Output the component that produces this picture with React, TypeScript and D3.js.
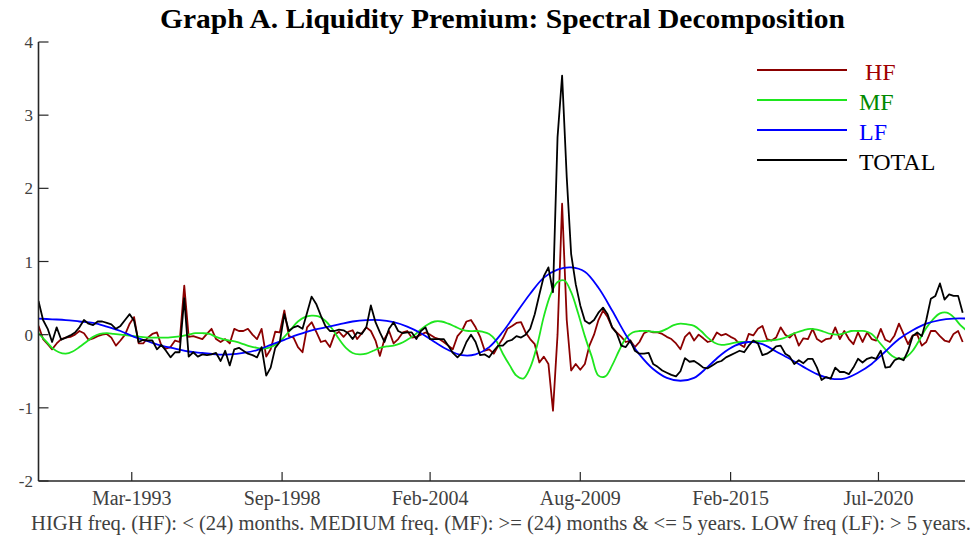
import React from "react";
import * as d3 from "d3";

// ---------- DATA ----------
// Monthly observations start Oct-1989; each series has its own sampling step (months).
const START = new Date(Date.UTC(1989, 9, 1));
const END = new Date(Date.UTC(2023, 8, 1));

const HF_STEP = 2;
const HF = [
  0.12, -0.06, -0.13, -0.2, -0.12, -0.06, -0.04, -0.03, 0.0, 0.05,
  0.02, -0.07, -0.05, -0.02, 0.0, 0.01, -0.04, -0.15, -0.08, 0.0,
  0.15, 0.24, -0.12, -0.12, -0.04, 0.01, 0.03, -0.15, -0.19, -0.17,
  -0.08, -0.1, 0.67, -0.03, -0.02, -0.04, -0.06, 0.01, 0.08, -0.06,
  -0.1, -0.06, -0.12, 0.08, 0.05, 0.05, 0.08, 0.0, -0.06, 0.08,
  -0.3, -0.2, 0.04, 0.03, 0.33, -0.02, -0.04, -0.17, -0.24, 0.1,
  0.17, 0.04, -0.1, -0.08, -0.17, 0.0, 0.04, -0.03, 0.04, 0.06,
  -0.06, 0.02, 0.1, 0.05, -0.08, -0.29, -0.06, 0.05, -0.12, -0.06,
  0.03, 0.05, -0.04, -0.03, 0.0, 0.03, 0.0, -0.04, -0.06, -0.1,
  -0.15, -0.2, -0.02, 0.05, 0.18, 0.2, 0.1, -0.03, -0.22, -0.2,
  -0.26, -0.15, -0.05, 0.08, 0.12, 0.16, 0.17, 0.03, -0.06, -0.13,
  -0.38, -0.3, -0.4, -1.04, 0.0, 1.79, 0.2, -0.49, -0.4, -0.48,
  -0.4, -0.15, 0.0, 0.2, 0.33, 0.24, 0.1, 0.03, -0.03, -0.1,
  -0.08, -0.17, -0.1, 0.02, 0.05, 0.03, 0.03, 0.01, -0.03, -0.06,
  -0.12, -0.2, -0.03, 0.03, -0.08, 0.0, -0.05, -0.1, -0.08, 0.03,
  -0.01, 0.01, -0.03, -0.06, -0.13, -0.17, 0.01, -0.01, 0.08, 0.12,
  -0.06, -0.08, -0.04, 0.1, 0.0, -0.04, 0.02, -0.15, -0.05, -0.06,
  0.08, -0.06, -0.1, -0.06, -0.05, 0.1, -0.06, 0.05, -0.06, -0.13,
  0.03, -0.1, 0.03, -0.06, -0.08, 0.08, -0.07, -0.1, -0.01, 0.15,
  0.01, -0.13, -0.01, 0.0, -0.15, -0.1, 0.05, 0.05, -0.02, -0.08,
  -0.1, 0.01, 0.05, -0.1,
];

const MF_STEP = 3;
const MF = [
  0.02, -0.08, -0.18, -0.24, -0.26, -0.23, -0.17, -0.1, -0.03, 0.01,
  0.02, 0.01, 0.0, -0.01, -0.02, -0.03, -0.04, -0.04, -0.04, -0.04,
  -0.03, -0.02, 0.0, 0.02, 0.02, 0.01, -0.03, -0.06, -0.08, -0.1,
  -0.13, -0.16, -0.18, -0.19, -0.17, -0.12, -0.03, 0.08, 0.18, 0.24,
  0.26, 0.25, 0.19, 0.08, -0.06, -0.18, -0.25, -0.27, -0.26, -0.22,
  -0.18, -0.16, -0.15, -0.12, -0.07, -0.01, 0.07, 0.14, 0.18, 0.18,
  0.15, 0.11, 0.07, 0.05, 0.05, 0.04, 0.01, -0.08, -0.26, -0.42,
  -0.56, -0.6, -0.45, -0.15, 0.25, 0.55, 0.72, 0.74, 0.58, 0.3,
  -0.02, -0.3, -0.56, -0.57, -0.42, -0.22, -0.05, 0.03, 0.05, 0.05,
  0.04, 0.04, 0.08, 0.13, 0.15, 0.14, 0.12, 0.05, -0.04, -0.11,
  -0.14, -0.13, -0.11, -0.1, -0.1, -0.09, -0.09, -0.08, -0.07, -0.05,
  -0.01, 0.03, 0.06, 0.08, 0.07, 0.04, 0.01, 0.0, 0.02, 0.05,
  0.05, 0.05, 0.01, -0.09, -0.2, -0.29, -0.33, -0.31, -0.22, -0.07,
  0.09, 0.21, 0.29, 0.3, 0.24, 0.13, 0.05,
];

const LF_STEP = 6;
const LF = [
  0.22, 0.21, 0.2, 0.18, 0.16, 0.11, 0.05, -0.03, -0.09, -0.15,
  -0.19, -0.23, -0.25, -0.27, -0.27, -0.25, -0.21, -0.14, -0.07, 0.0,
  0.06, 0.1, 0.14, 0.18, 0.2, 0.2, 0.17, 0.11, 0.02, -0.1,
  -0.21, -0.28, -0.27, -0.17, 0.04, 0.3, 0.56, 0.78, 0.89, 0.92,
  0.86, 0.64, 0.33, 0.0, -0.27, -0.47, -0.59, -0.63, -0.59, -0.44,
  -0.27, -0.15, -0.1, -0.13, -0.23, -0.33, -0.44, -0.54, -0.6, -0.6,
  -0.52, -0.4, -0.23, -0.06, 0.06, 0.15, 0.2, 0.22, 0.22,
];

const TOTAL_STEP = 2;
const TOTAL = [
  0.46, 0.2, 0.08, -0.1, 0.1, -0.07, -0.04, -0.01, 0.03, 0.1,
  0.2, 0.15, 0.13, 0.18, 0.18, 0.16, 0.14, 0.08, 0.12, 0.2,
  0.28, 0.19, -0.1, -0.07, -0.08, -0.08, -0.2, -0.14, -0.22, -0.31,
  -0.24, -0.24, 0.5, -0.3, -0.24, -0.3, -0.27, -0.28, -0.27, -0.25,
  -0.36, -0.22, -0.42, -0.2, -0.18, -0.22, -0.26, -0.28, -0.31, -0.17,
  -0.56, -0.45, -0.18, -0.1, 0.28, 0.05, 0.1, 0.12, 0.08, 0.3,
  0.52, 0.42, 0.26, 0.12, 0.05, 0.05, 0.07, 0.06, 0.02, -0.06,
  0.03, 0.01, 0.1, 0.4, 0.17, 0.03, -0.1, 0.08, 0.17, 0.05,
  0.02, 0.03, 0.03, -0.06, 0.05, 0.1, -0.06, -0.06, -0.06, -0.06,
  -0.15, -0.25, -0.31, -0.25, -0.1, 0.0, -0.1, -0.28, -0.27, -0.31,
  -0.22, -0.15, -0.15, -0.09, -0.07, -0.02, -0.04, 0.0, 0.08, 0.28,
  0.55, 0.8, 0.92, 0.58, 2.7, 3.54, 2.15, 1.1, 0.69, 0.4,
  0.19, 0.15, 0.2, 0.3, 0.37, 0.28, 0.1, 0.02, -0.15, -0.17,
  -0.08, -0.22, -0.26, -0.26, -0.25, -0.4, -0.44, -0.49, -0.52, -0.55,
  -0.57, -0.5, -0.32, -0.37, -0.36, -0.4, -0.45, -0.46, -0.42, -0.38,
  -0.36, -0.31, -0.28, -0.25, -0.22, -0.24, -0.15, -0.08, -0.12, -0.28,
  -0.26, -0.22, -0.16, -0.15, -0.26, -0.3, -0.4, -0.35, -0.39, -0.33,
  -0.33, -0.45, -0.62, -0.58, -0.6, -0.45, -0.51, -0.51, -0.54, -0.45,
  -0.33, -0.38, -0.33, -0.31, -0.33, -0.22, -0.45, -0.44, -0.35, -0.32,
  -0.35, -0.22, -0.02, 0.03, -0.02, 0.2, 0.49, 0.53, 0.7, 0.48,
  0.55, 0.53, 0.53, 0.3,
];

const Y_TICKS = [-2, -1, 0, 1, 2, 3, 4];
const X_TICK_DATES = [
  new Date(Date.UTC(1993, 2, 1)),
  new Date(Date.UTC(1998, 8, 1)),
  new Date(Date.UTC(2004, 1, 1)),
  new Date(Date.UTC(2009, 7, 1)),
  new Date(Date.UTC(2015, 1, 1)),
  new Date(Date.UTC(2020, 6, 1)),
];
const X_TICK_LABELS = ["Mar-1993", "Sep-1998", "Feb-2004", "Aug-2009", "Feb-2015", "Jul-2020"];

const LEGEND_LABELS = [" HF", "MF", "LF", "TOTAL"];

const TITLE = "Graph A. Liquidity Premium: Spectral Decomposition";
const FOOTNOTE =
  "HIGH freq. (HF): < (24) months. MEDIUM freq. (MF): >= (24) months & <= 5 years. LOW freq (LF): > 5 years.";

// ---------- CHART ----------
const W = 974;
const H = 539;
const FONT = "'Liberation Serif', 'Times New Roman', serif";
const AXIS_COLOR = "#262626";
const TEXT_COLOR = "#404040";

export default function App() {
  const x = d3.scaleUtc().domain([START, END]).range([38.5, 965]);
  const y = d3.scaleLinear().domain([-2, 4]).range([481, 42]);

  const toPoints = (vals: number[], step: number) =>
    vals.map((v, i) => ({ d: d3.utcMonth.offset(START, i * step), v }));

  const linear = d3
    .line<{ d: Date; v: number }>()
    .x((p) => x(p.d))
    .y((p) => y(p.v));
  const smooth = d3
    .line<{ d: Date; v: number }>()
    .x((p) => x(p.d))
    .y((p) => y(p.v))
    .curve(d3.curveCatmullRom.alpha(0.5));

  const series = [
    { key: "HF", path: linear(toPoints(HF, HF_STEP)), stroke: "#8b0000", text: "#a00000" },
    { key: "MF", path: smooth(toPoints(MF, MF_STEP)), stroke: "#1ee61e", text: "#008a00" },
    { key: "LF", path: smooth(toPoints(LF, LF_STEP)), stroke: "#0000ff", text: "#0000ff" },
    { key: "TOTAL", path: linear(toPoints(TOTAL, TOTAL_STEP)), stroke: "#000000", text: "#000000" },
  ];

  const [x0, x1] = x.range();
  const [yb, yt] = y.range();

  return (
    <svg width={W} height={H} style={{ position: "absolute", left: 0, top: 0, background: "#fff" }}>
      <defs>
        <clipPath id="plot">
          <rect x={x0} y={yt - 5} width={x1 - x0} height={yb - yt + 5} />
        </clipPath>
      </defs>
      <rect x={0} y={0} width={W} height={H} fill="#fff" />

      <text
        x={160}
        y={28}
        fontFamily={FONT}
        fontWeight="bold"
        fontSize={27}
        textLength={685}
        lengthAdjust="spacingAndGlyphs"
        fill="#000"
      >
        {TITLE}
      </text>

      <g clipPath="url(#plot)">
        {series.map((s) => (
          <path
            key={s.key}
            d={s.path || ""}
            fill="none"
            stroke={s.stroke}
            strokeWidth={1.8}
            strokeLinejoin="round"
          />
        ))}
      </g>

      {/* axes */}
      <line x1={x0} x2={x0} y1={yt} y2={yb} stroke={AXIS_COLOR} strokeWidth={1.6} />
      <line x1={x0} x2={x1} y1={yb} y2={yb} stroke={AXIS_COLOR} strokeWidth={1.6} />
      {Y_TICKS.map((t) => (
        <g key={t}>
          <line x1={x0} x2={x0 + 10} y1={y(t)} y2={y(t)} stroke={AXIS_COLOR} strokeWidth={1.2} />
          <text
            x={33}
            y={y(t) + 6}
            textAnchor="end"
            fontFamily={FONT}
            fontSize={17}
            fill={TEXT_COLOR}
          >
            {t}
          </text>
        </g>
      ))}
      {X_TICK_DATES.map((d, i) => (
        <g key={i}>
          <line x1={x(d)} x2={x(d)} y1={yb} y2={yb - 9} stroke={AXIS_COLOR} strokeWidth={1.2} />
          <text
            x={x(d)}
            y={505}
            textAnchor="middle"
            fontFamily={FONT}
            fontSize={20}
            fill={TEXT_COLOR}
          >
            {X_TICK_LABELS[i]}
          </text>
        </g>
      ))}

      {/* legend */}
      {series.map((s, i) => (
        <g key={s.key}>
          <line x1={757} x2={847} y1={70 + i * 30} y2={70 + i * 30} stroke={s.stroke} strokeWidth={1.8} />
          <text
            x={859}
            y={80 + i * 30}
            fontFamily={FONT}
            fontSize={24}
            fill={s.text}
            style={{ whiteSpace: "pre" }}
          >
            {LEGEND_LABELS[i]}
          </text>
        </g>
      ))}

      <text
        x={31}
        y={530}
        fontFamily={FONT}
        fontSize={20.5}
        textLength={940}
        lengthAdjust="spacingAndGlyphs"
        fill={TEXT_COLOR}
      >
        {FOOTNOTE}
      </text>
    </svg>
  );
}
